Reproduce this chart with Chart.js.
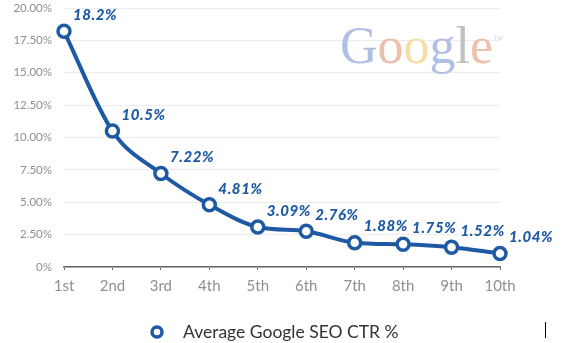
<!DOCTYPE html>
<html>
<head>
<meta charset="utf-8">
<script src="https://cdn.jsdelivr.net/npm/chart.js@4.4.1/dist/chart.umd.min.js"></script>
<style>
  html, body { margin: 0; padding: 0; background: #fff; }
  #wrap { width: 563px; height: 343px; position: relative; }
</style>
</head>
<body>
<div id="wrap"><canvas id="ctrChart"></canvas></div>
<script>
  // rank positions on page one
  var positions = ['1st', '2nd', '3rd', '4th', '5th', '6th', '7th', '8th', '9th', '10th'];
  // average click-through rate per position, in percent
  var ctrValues = [18.2, 10.5, 7.22, 4.81, 3.09, 2.76, 1.88, 1.75, 1.52, 1.04];
  var yTickLabels = ['0%', '2.50%', '5.00%', '7.50%', '10.00%', '12.50%', '15.00%', '17.50%', '20.00%'];
  var seriesName = 'Average Google SEO CTR %';

  var blue = '#1d5aa3';
  var baseFont = 'Lato, "Open Sans", sans-serif';

  // value labels above and right of each point
  var valueLabels = {
    id: 'valueLabels',
    afterDatasetsDraw: function (chart) {
      var ctx = chart.ctx;
      var meta = chart.getDatasetMeta(0);
      ctx.save();
      ctx.font = 'italic 900 15px ' + baseFont;
      ctx.letterSpacing = '0.6px';
      ctx.fillStyle = blue;
      ctx.textAlign = 'left';
      ctx.textBaseline = 'middle';
      meta.data.forEach(function (pt, i) {
        ctx.fillText(ctrValues[i] + '%', pt.x + 9, pt.y - 16);
      });
      ctx.restore();
    }
  };

  // faded Google wordmark behind the line
  var logo = {
    id: 'logo',
    beforeDatasetsDraw: function (chart) {
      var ctx = chart.ctx;
      var letters = ['G', 'o', 'o', 'g', 'l', 'e'];
      var colors = ['#b0bfe4', '#ecc0ab', '#f6dfa6', '#b0bfe4', '#bfc2bf', '#ecc0ab'];
      ctx.save();
      ctx.font = '52px "Liberation Serif", "DejaVu Serif", serif';
      ctx.textBaseline = 'alphabetic';
      var x = 340;
      letters.forEach(function (ch, i) {
        ctx.fillStyle = colors[i];
        ctx.fillText(ch, x, 63);
        x += ctx.measureText(ch).width;
      });
      ctx.font = '6px sans-serif';
      ctx.fillStyle = '#cccccc';
      ctx.fillText('TM', x + 1, 40);
      ctx.restore();
    }
  };

  // single-entry legend under the axis, plus the small mark at the bottom right
  var legendRow = {
    id: 'legendRow',
    afterDraw: function (chart) {
      var ctx = chart.ctx;
      var ds = chart.data.datasets[0];
      ctx.save();
      ctx.beginPath();
      ctx.arc(157, 332, 5, 0, Math.PI * 2);
      ctx.fillStyle = '#fff';
      ctx.fill();
      ctx.lineWidth = 3.5;
      ctx.strokeStyle = ds.borderColor;
      ctx.stroke();

      ctx.font = '17.5px ' + baseFont;
      ctx.fillStyle = '#333';
      ctx.textAlign = 'left';
      ctx.textBaseline = 'middle';
      ctx.fillText(ds.label, 183, 332);

      ctx.strokeStyle = '#000';
      ctx.lineWidth = 1;
      ctx.beginPath();
      ctx.moveTo(545.5, 322);
      ctx.lineTo(545.5, 338);
      ctx.stroke();
      ctx.restore();
    }
  };

  Chart.defaults.font.family = baseFont;

  var ctx = document.getElementById('ctrChart').getContext('2d');
  var chart = new Chart(ctx, {
    type: 'line',
    data: {
      labels: positions,
      datasets: [{
        label: seriesName,
        data: ctrValues,
        borderColor: blue,
        borderWidth: 4,
        backgroundColor: '#fff',
        pointBackgroundColor: '#fff',
        pointBorderColor: blue,
        pointBorderWidth: 3.5,
        pointRadius: 6,
        cubicInterpolationMode: 'monotone',
        fill: false
      }]
    },
    options: {
      responsive: true,
      maintainAspectRatio: false,
      animation: false,
      devicePixelRatio: 1,
      layout: { autoPadding: false, padding: { left: 0, right: 63, top: 8, bottom: 0 } },
      scales: {
        x: {
          offset: false,
          grid: { drawOnChartArea: false, drawTicks: true, tickLength: 3, color: '#666' },
          border: { color: '#666', width: 1.5 },
          ticks: { color: '#8f8f8f', font: { size: 15 }, padding: 7, maxRotation: 0 },
          afterFit: function (scale) {
            scale.height = 76;
            scale.paddingLeft = 0;
            scale.paddingRight = 0;
          }
        },
        y: {
          min: 0,
          max: 20,
          grid: { color: '#ececec', drawTicks: false },
          border: { display: false },
          ticks: {
            stepSize: 2.5,
            color: '#8f8f8f',
            font: { size: 11.5 },
            padding: 12,
            callback: function (v, i) { return yTickLabels[i]; }
          },
          afterFit: function (scale) {
            scale.width = 64;
            scale.paddingTop = 0;
            scale.paddingBottom = 0;
          }
        }
      },
      plugins: {
        legend: { display: false },
        tooltip: { enabled: false }
      }
    },
    plugins: [valueLabels, logo, legendRow]
  });
</script>
</body>
</html>
